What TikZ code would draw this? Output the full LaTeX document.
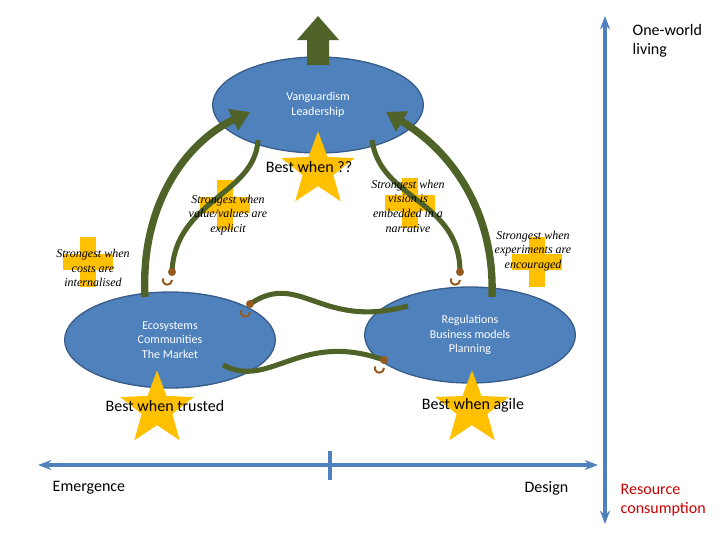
\documentclass[tikz,border=0pt]{standalone}
\usepackage{fontspec}
\setmainfont{Carlito}
\newfontfamily\tms{Liberation Serif}
\usetikzlibrary{shapes.geometric,arrows.meta}
\definecolor{bl}{RGB}{79,129,189}
\definecolor{bldk}{RGB}{56,93,138}
\definecolor{gr}{RGB}{79,98,40}
\definecolor{yl}{RGB}{255,192,0}
\definecolor{hk}{RGB}{150,90,30}
\begin{document}
\begin{tikzpicture}[x=0.75pt,y=-0.75pt,
  oval/.style={ellipse,draw=bldk,line width=1pt,fill=bl,text=white,minimum width=158pt,minimum height=72pt,font=\small,align=center,inner sep=0pt},
  st/.style={star,star points=5,star point ratio=2.4,fill=yl,minimum size=58pt,inner sep=0pt},
  note/.style={font=\tms\itshape\small,align=center,inner sep=0pt},
  rope/.style={gr,line width=3.8pt},
  arr/.style={gr,line width=5.5pt,-{Triangle[length=14pt,width=17pt]}},
  hook/.style={hk,line width=1.5pt},
  lab/.style={font=\large},
  ax/.style={bl,line width=3.5pt,{Stealth[length=10pt]}-{Stealth[length=10pt]}}]
\useasboundingbox (0,0) rectangle (720,540);
% plus signs
\foreach \px/\py in {225/205,88/262,410/203,537/262}{
  \fill[yl] (\px-8,\py-25) rectangle (\px+8,\py+25);
  \fill[yl] (\px-25,\py-8) rectangle (\px+25,\py+8);
}
% ovals
\node[oval] (top) at (318,105) {Vanguardism\\Leadership};
\node[oval] (lft) at (170,340) {Ecosystems\\Communities\\The Market};
\node[oval] (rgt) at (470,335) {Regulations\\Business models\\Planning};
% stars
\node[st] (s1) at (318,170) {};
\node[st] (s2) at (157,409) {};
\node[st] (s3) at (472,409) {};
\node[lab,anchor=base] (b1) at (309,172) {Best when ??};
\node[lab,anchor=base] (b2) at (165,411) {Best when trusted};
\node[lab,anchor=base] (b3) at (473,409) {Best when agile};
% top arrow
\fill[gr] (307,65) -- (307,40) -- (297,40) -- (318,16) -- (339,40) -- (329,40) -- (329,65) -- cycle;
% curved arrows
\coordinate (la) at (145,297); \coordinate (ra) at (492,297);
\coordinate (lh) at (250,112); \coordinate (rh) at (386,112);
\draw[arr] (la) .. controls (140,200) and (190,140) .. (lh);
\draw[arr] (ra) .. controls (495,210) and (450,150) .. (rh);
% ropes with hooks
\coordinate (r1a) at (258,140); \coordinate (r1b) at (172,272);
\coordinate (r2a) at (372,140); \coordinate (r2b) at (460,272);
\draw[rope] (r1a) .. controls (255,195) and (175,200) .. (r1b);
\draw[rope] (r2a) .. controls (380,200) and (460,200) .. (r2b);
\coordinate (m1a) at (250,304); \coordinate (m1b) at (408,306);
\coordinate (m2a) at (223,365); \coordinate (m2b) at (384,360);
\draw[rope] (m1a) .. controls (300,270) and (320,330) .. (m1b);
\draw[rope] (m2a) .. controls (270,390) and (300,330) .. (m2b);
\foreach \h in {r1b,r2b,m1a,m2b}{
  \draw[hook] ([yshift=-6pt]\h) arc[start angle=0,end angle=-200,radius=3.5pt];
  \fill[hk] (\h) circle (3pt);
}
% notes
\node[note] (n1) at (228,215) {Strongest when\\value/values are\\explicit};
\node[note] (n2) at (93,268) {Strongest when\\costs are\\internalised};
\node[note] (n3) at (408,206) {Strongest when\\vision is\\embedded in a\\narrative};
\node[note] (n4) at (533,251) {Strongest when\\experiments are\\encouraged};
% axes
\coordinate (hl) at (38,465); \coordinate (hr) at (598,465);
\coordinate (vt) at (605,16); \coordinate (vb) at (605,524);
\draw[ax] (hl) -- (hr);
\draw[ax] (vt) -- (vb);
\coordinate (tk1) at (330,451); \coordinate (tk2) at (330,480);
\draw[bl,line width=3.5pt] (tk1) -- (tk2);
\node[lab,anchor=west] (em) at (48,488) {Emergence};
\node[lab,anchor=east] (de) at (573,488) {Design};
\node[lab,anchor=north west,align=left] (ow) at (628,20) {One-world\\living};
\node[lab,anchor=north west,align=left,text=red!80!black] (rc) at (616,480) {Resource\\consumption};
\end{tikzpicture}
\end{document}
